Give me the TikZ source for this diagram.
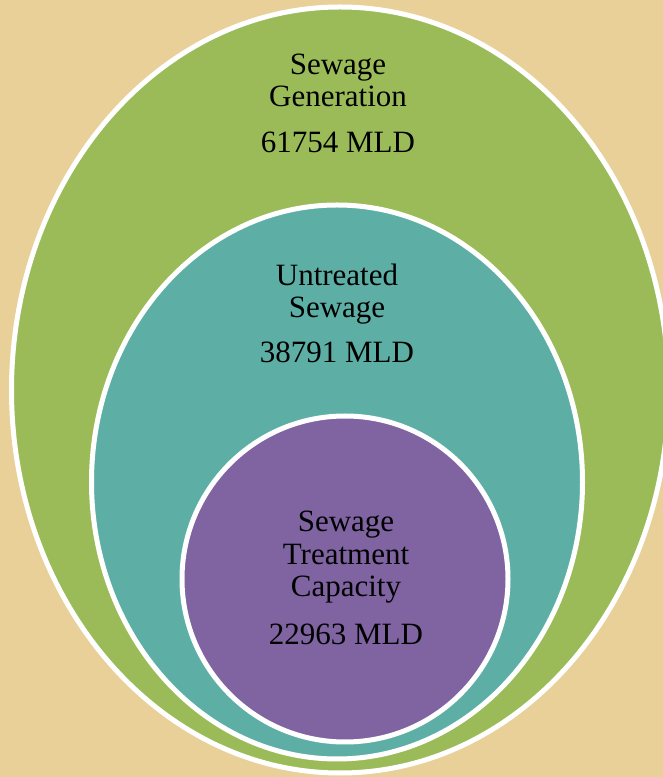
\documentclass[tikz,border=0pt]{standalone}
\usepackage{fontspec}
\setmainfont{Liberation Serif}
\definecolor{parch}{RGB}{233,208,152}
\definecolor{sewgreen}{HTML}{9BBB59}
\definecolor{sewteal}{HTML}{5DAFA6}
\definecolor{sewpurple}{HTML}{8064A2}

\begin{document}
\begin{tikzpicture}[x=1pt, y=1pt,
    ring/.style={draw=white, line width=5pt},
    lbl/.style={font=\fontsize{31}{33}\selectfont, anchor=base, inner sep=0pt}]

  \useasboundingbox (0,0) rectangle (663,777);
  \fill[parch] (0,0) rectangle (663,777);
  \clip (0,0) rectangle (663,777);

  % rings, outside in
  \filldraw[ring, fill=sewgreen] (340,387) ellipse [x radius=328.5, y radius=383];
  \filldraw[ring, fill=sewteal] (337,295) ellipse [x radius=245.5, y radius=277];
  \filldraw[ring, fill=sewpurple] (345,198) circle [radius=163];

  % generation
  \node[lbl] (gen1) at (338,702) {Sewage};
  \node[lbl] (gen2) at (338,670) {Generation};
  \node[lbl] (genval) at (338,624) {61754 MLD};

  % untreated
  \node[lbl] (unt1) at (337,491) {Untreated};
  \node[lbl] (unt2) at (337,459) {Sewage};
  \node[lbl] (untval) at (337,414) {38791 MLD};

  % treatment capacity
  \node[lbl] (cap1) at (346,245) {Sewage};
  \node[lbl] (cap2) at (346,212) {Treatment};
  \node[lbl] (cap3) at (346,180) {Capacity};
  \node[lbl] (capval) at (346,132) {22963 MLD};

\end{tikzpicture}
\end{document}
